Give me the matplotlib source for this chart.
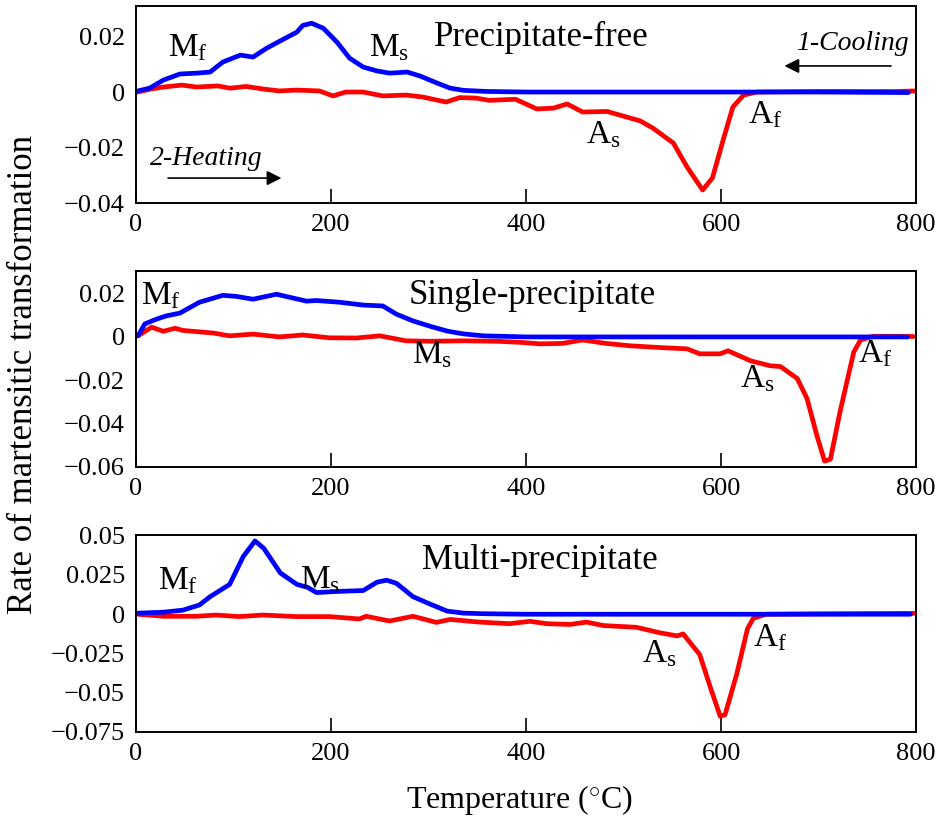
import matplotlib
matplotlib.use('Agg')
import matplotlib.pyplot as plt

# panel 1: precipitate-free
t1_blue = [2, 14, 28, 45, 62, 76, 89, 107, 120, 134, 151, 165, 171, 180, 192, 206, 219, 233, 247, 260, 278, 291, 309, 322, 336, 360, 400, 500, 600, 700, 792]
r1_blue = [0.0004, 0.0014, 0.0043, 0.0065, 0.0068, 0.0072, 0.0108, 0.0133, 0.0126, 0.0158, 0.019, 0.0216, 0.024, 0.0248, 0.023, 0.018, 0.0122, 0.009, 0.0076, 0.0068, 0.0072, 0.0058, 0.0032, 0.0014, 0.0006, 0.0002, 0.0, 0.0, 0.0, 0.0, -0.0002]
t1_red = [2, 14, 28, 47, 62, 84, 96, 113, 130, 147, 164, 188, 202, 215, 233, 253, 277, 294, 318, 332, 349, 362, 389, 401, 411, 428, 442, 458, 483, 503, 517, 530, 551, 565, 581, 591, 602, 612, 623, 637, 700, 780, 800]
r1_red = [0.0, 0.001, 0.0018, 0.0025, 0.0018, 0.0022, 0.0014, 0.002, 0.0011, 0.0004, 0.0007, 0.0004, -0.0014, 0.0, 0.0, -0.0014, -0.0011, -0.0018, -0.0036, -0.002, -0.0022, -0.003, -0.0026, -0.0045, -0.0061, -0.0058, -0.0043, -0.0072, -0.007, -0.009, -0.0104, -0.013, -0.0184, -0.027, -0.0353, -0.031, -0.0173, -0.0054, -0.0011, 0.0, 0.0002, 0.0002, 0.0004]

# panel 2: single-precipitate
t2_blue = [2, 9, 21, 31, 45, 65, 89, 103, 120, 144, 175, 185, 209, 233, 253, 267, 284, 301, 319, 336, 356, 400, 500, 600, 700, 791]
r2_blue = [0.0005, 0.006, 0.0082, 0.0097, 0.011, 0.016, 0.0192, 0.0187, 0.0174, 0.0197, 0.0165, 0.0168, 0.016, 0.0147, 0.0143, 0.0105, 0.0074, 0.005, 0.0027, 0.0014, 0.0005, 0.0, 0.0, 0.0, 0.0, 0.0]
t2_red = [2, 16, 28, 40, 48, 79, 96, 120, 147, 171, 198, 226, 250, 277, 301, 336, 370, 394, 414, 437, 458, 482, 507, 541, 565, 578, 599, 607, 630, 650, 661, 678, 688, 698, 706, 712, 722, 736, 743, 756, 797]
r2_red = [0.0005, 0.0045, 0.0026, 0.004, 0.003, 0.0018, 0.0005, 0.0013, 0.0, 0.0009, -0.0004, -0.0005, 0.0005, -0.0018, -0.002, -0.0018, -0.002, -0.0025, -0.0032, -0.003, -0.0014, -0.003, -0.0041, -0.005, -0.0055, -0.0078, -0.0078, -0.0064, -0.011, -0.0133, -0.0137, -0.0192, -0.0284, -0.0453, -0.0573, -0.0565, -0.0343, -0.0069, -0.0014, 0.0003, 0.0002]

# panel 3: multi-precipitate
t3_blue = [2, 28, 48, 65, 76, 96, 110, 122, 131, 148, 165, 176, 185, 205, 233, 247, 257, 267, 284, 301, 319, 336, 360, 400, 500, 600, 700, 794]
r3_blue = [0.0007, 0.0013, 0.0026, 0.0059, 0.0112, 0.019, 0.0368, 0.0467, 0.042, 0.0263, 0.019, 0.0171, 0.0138, 0.0145, 0.0151, 0.0204, 0.0217, 0.0197, 0.0112, 0.0066, 0.002, 0.0007, 0.0003, 0.0, 0.0, 0.0, 0.0, 0.0]
t3_red = [2, 28, 62, 82, 106, 130, 164, 198, 229, 236, 260, 284, 308, 322, 352, 383, 404, 421, 445, 462, 479, 513, 537, 555, 561, 578, 589, 599, 604, 616, 627, 633, 646, 700, 800]
r3_red = [0.0, -0.0013, -0.0013, -0.0005, -0.0015, -0.0005, -0.0015, -0.0015, -0.003, -0.0013, -0.0043, -0.0013, -0.0052, -0.0033, -0.005, -0.006, -0.0045, -0.006, -0.0065, -0.005, -0.0072, -0.0083, -0.0118, -0.0138, -0.0125, -0.0257, -0.0467, -0.065, -0.064, -0.038, -0.0092, -0.0026, 0.0, 0.0003, 0.0006]

titles = ['Precipitate-free', 'Single-precipitate', 'Multi-precipitate']
yticks = [[0.02, 0, -0.02, -0.04],
          [0.02, 0, -0.02, -0.04, -0.06],
          [0.05, 0.025, 0, -0.025, -0.05, -0.075]]
yticklabels = [['0.02', '0', '\u22120.02', '\u22120.04'],
               ['0.02', '0', '\u22120.02', '\u22120.04', '\u22120.06'],
               ['0.05', '0.025', '0', '\u22120.025', '\u22120.05', '\u22120.075']]
ylims = [(-0.04, 0.031), (-0.06, 0.0305), (-0.075, 0.0505)]
xticks = [0, 200, 400, 600, 800]

plt.rcParams['font.family'] = ['Liberation Serif', 'DejaVu Serif']
plt.rcParams['mathtext.fontset'] = 'custom'
plt.rcParams['mathtext.rm'] = 'Liberation Serif'
plt.rcParams['mathtext.it'] = 'Liberation Serif:italic'

fig = plt.figure(figsize=(9.4, 8.22), dpi=100)
boxes = [[0.1447, 0.753, 0.83, 0.2397],
         [0.1447, 0.432, 0.83, 0.2385],
         [0.1447, 0.1095, 0.83, 0.2397]]
data = [(t1_red, r1_red, t1_blue, r1_blue),
        (t2_red, r2_red, t2_blue, r2_blue),
        (t3_red, r3_red, t3_blue, r3_blue)]
axes = []
for i in range(3):
    ax = fig.add_axes(boxes[i])
    tr, rr, tb, rb = data[i]
    ax.plot(tr, rr, color='#ff0000', lw=3.4, solid_joinstyle='round', solid_capstyle='round')
    ax.plot(tb, rb, color='#0000ff', lw=3.4, solid_joinstyle='round', solid_capstyle='round')
    ax.set_xlim(0, 800)
    ax.set_ylim(*ylims[i])
    ax.set_xticks(xticks)
    ax.set_xticklabels([str(v) for v in xticks])
    ax.set_yticks(yticks[i])
    ax.set_yticklabels(yticklabels[i])
    ax.tick_params(axis='x', direction='in', length=10, width=1.2, labelsize=19, pad=8)
    ax.tick_params(axis='y', length=0, labelsize=19, pad=8)
    for s in ax.spines.values():
        s.set_linewidth(1.4)
    axes.append(ax)

fs = 24
def sub(a, b):
    return r'$\mathrm{' + a + r'}_{\mathrm{' + b + '}}$'

ax = axes[0]
ax.text(416, 0.0195, titles[0], fontsize=25, ha='center', va='center')
ax.text(53, 0.0158, sub('M', 'f'), fontsize=fs, ha='center', va='center')
ax.text(260, 0.0158, sub('M', 's'), fontsize=fs, ha='center', va='center')
ax.text(479, -0.0155, sub('A', 's'), fontsize=fs, ha='center', va='center')
ax.text(645, -0.0083, sub('A', 'f'), fontsize=fs, ha='center', va='center')
ax.text(735, 0.0175, '1-Cooling', fontsize=20, style='italic', ha='center', va='center')
ax.annotate('', xy=(662, 0.0094), xytext=(777, 0.0094),
            arrowprops=dict(arrowstyle='-|>', color='black', lw=1.2, mutation_scale=22))
ax.text(72, -0.0238, '2-Heating', fontsize=20, style='italic', ha='center', va='center')
ax.annotate('', xy=(152, -0.031), xytext=(30, -0.031),
            arrowprops=dict(arrowstyle='-|>', color='black', lw=1.2, mutation_scale=22))

ax = axes[1]
ax.text(406, 0.0192, titles[1], fontsize=25, ha='center', va='center')
ax.text(25, 0.0188, sub('M', 'f'), fontsize=fs, ha='center', va='center')
ax.text(304, -0.0082, sub('M', 's'), fontsize=fs, ha='center', va='center')
ax.text(637, -0.0192, sub('A', 's'), fontsize=fs, ha='center', va='center')
ax.text(758, -0.0078, sub('A', 'f'), fontsize=fs, ha='center', va='center')

ax = axes[2]
ax.text(414, 0.034, titles[2], fontsize=25, ha='center', va='center')
ax.text(43, 0.021, sub('M', 'f'), fontsize=fs, ha='center', va='center')
ax.text(189, 0.022, sub('M', 's'), fontsize=fs, ha='center', va='center')
ax.text(537, -0.025, sub('A', 's'), fontsize=fs, ha='center', va='center')
ax.text(650, -0.015, sub('A', 'f'), fontsize=fs, ha='center', va='center')

fig.text(0.025, 0.544, 'Rate of martensitic transformation', rotation=90,
         fontsize=25, ha='center', va='center')
fig.text(0.553, 0.027, r'Temperature ($^{\circ}$C)', fontsize=23, ha='center', va='center')

fig.savefig('out.png', dpi=100)
